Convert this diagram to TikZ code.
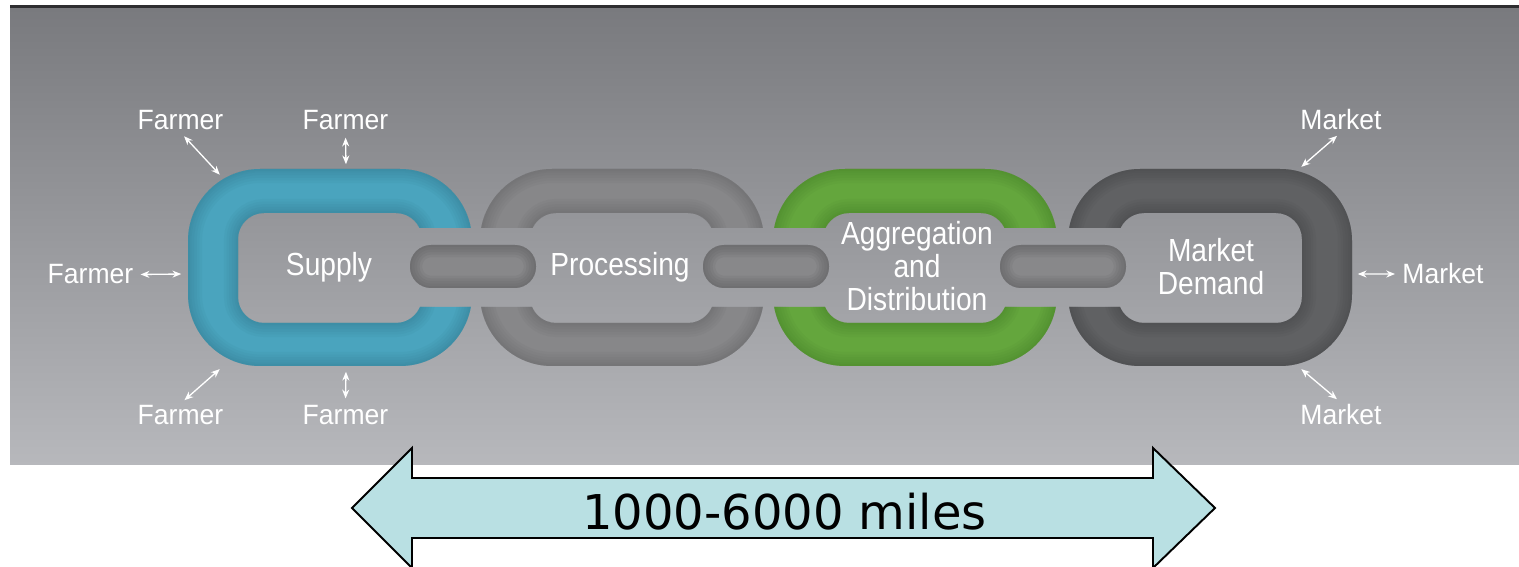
\documentclass[tikz,border=0pt]{standalone}
\usepackage{fontspec}
\setmainfont{Liberation Sans}
\newfontfamily\tagfont[FakeStretch=0.95]{Liberation Sans}
\newfontfamily\linkfont[FakeStretch=0.88]{Liberation Sans}
\newfontfamily\milesfont{DejaVu Sans}
\usetikzlibrary{arrows.meta,positioning}

\definecolor{bgtop}{HTML}{797A7E}
\definecolor{bgbot}{HTML}{B7B8BC}
\definecolor{topline}{HTML}{2E2E30}
\definecolor{tealL}{HTML}{4AA4BE}
\definecolor{tealE}{HTML}{2F7186}
\definecolor{grayL}{HTML}{878789}
\definecolor{grayE}{HTML}{5E5E60}
\definecolor{greenL}{HTML}{64A63D}
\definecolor{greenE}{HTML}{3F7A25}
\definecolor{darkL}{HTML}{606163}
\definecolor{darkE}{HTML}{3E3F41}
\definecolor{barL}{HTML}{88888A}
\definecolor{barE}{HTML}{505052}
\definecolor{arrowfill}{HTML}{B9E0E3}

\begin{document}
\begin{tikzpicture}[
    x=0.02cm, y=-0.02cm,
    tag/.style={text=white, font=\tagfont\fontsize{15.9}{19}\selectfont, inner sep=1pt, anchor=base},
    linklabel/.style={text=white, font=\linkfont\fontsize{18.2}{18.7}\selectfont, align=center, inner sep=0pt},
    wire/.style={<->, white, line width=0.75pt, shorten <=3pt, shorten >=1pt},
    >={Stealth[length=5pt,width=4pt]}
]
\useasboundingbox (0,0) rectangle (1519,567);

% backdrop
\shade[top color=bgtop, bottom color=bgbot] (10,8) rectangle (1519,465);
\fill[topline] (10,5) rectangle (1519,8);

% the four big links, cut where the small links pass
\foreach \cx/\lc/\ec/\ga/\gb in {330/tealL/tealE/170/80, 622/grayL/grayE/80/80,
                                 915/greenL/greenE/80/80, 1210/darkL/darkE/80/170}{
  \begin{scope}
    \clip (\cx-170,160) rectangle (\cx+170,228)
          (\cx-\ga,228) rectangle (\cx+\gb,307)
          (\cx-170,307) rectangle (\cx+170,375);
    \fill[\lc, even odd rule] [rounded corners=41pt] (\cx-142,169) rectangle (\cx+142,366)
         [rounded corners=14.8pt] (\cx-92,213) rectangle (\cx+92,323);
    \begin{scope}[even odd rule]
      \clip [rounded corners=41pt] (\cx-142,169) rectangle (\cx+142,366)
            [rounded corners=14.8pt] (\cx-92,213) rectangle (\cx+92,323);
      \foreach \w in {16,13,10,7,4,2}
        \draw[\ec, line width=\w pt, opacity=0.08] [rounded corners=41pt] (\cx-142,169) rectangle (\cx+142,366)
             [rounded corners=14.8pt] (\cx-92,213) rectangle (\cx+92,323);
    \end{scope}
  \end{scope}
}

% the small links in between
\foreach \bx in {473,766,1063}{
  \fill[barL, rounded corners=12pt] (\bx-63,245) rectangle (\bx+63,288);
  \begin{scope}
    \clip[rounded corners=12pt] (\bx-63,245) rectangle (\bx+63,288);
    \foreach \w in {14,11,8,5,2}
      \draw[barE, line width=\w pt, opacity=0.1, rounded corners=12pt] (\bx-63,245) rectangle (\bx+63,288);
  \end{scope}
}

% link labels
\node[linklabel, anchor=base] (supply) at (329,276) {Supply};
\node[linklabel, anchor=base] (processing) at (620,276) {Processing};
\node[linklabel] (aggr) at (917,266) {Aggregation\\and\\Distribution};
\node[linklabel] (demand) at (1211,267) {Market\\Demand};

% farmers and markets
\node[tag] (fTL) at (180.5,130) {Farmer};
\node[tag] (fT) at (345.5,130) {Farmer};
\node[tag] (fL) at (90.5,284) {Farmer};
\node[tag] (fBL) at (180.5,425) {Farmer};
\node[tag] (fB) at (345.5,425) {Farmer};
\node[tag] (mT) at (1341,130) {Market};
\node[tag] (mR) at (1443,284) {Market};
\node[tag] (mB) at (1341,425) {Market};

\coordinate (cTL) at (221,176);
\coordinate (cT) at (346,166);
\coordinate (cL) at (183,274);
\coordinate (cBL) at (221,368);
\coordinate (cB) at (346,370);
\coordinate (cMT) at (1300,168);
\coordinate (cMR) at (1356,274);
\coordinate (cMB) at (1300,368);

\draw[wire] (fTL.south) -- (cTL);
\draw[wire] (fT.south) -- (cT);
\draw[wire] (fL.east) -- (cL);
\draw[wire] (fBL.north) -- (cBL);
\draw[wire] (fB.north) -- (cB);
\draw[wire] (mT.south) -- (cMT);
\draw[wire] (mR.west) -- (cMR);
\draw[wire] (mB.north) -- (cMB);

% distance arrow
\filldraw[fill=arrowfill, draw=black, line width=1.1pt, line join=miter]
    (352,508) -- (412,448) -- (412,478) -- (1153,478) -- (1153,448) -- (1215,508)
    -- (1153,568) -- (1153,538) -- (412,538) -- (412,568) -- cycle;
\node[font=\milesfont\fontsize{27.3}{30}\selectfont, anchor=base] (miles) at (784.5,530) {1000-6000 miles};
\end{tikzpicture}
\end{document}
